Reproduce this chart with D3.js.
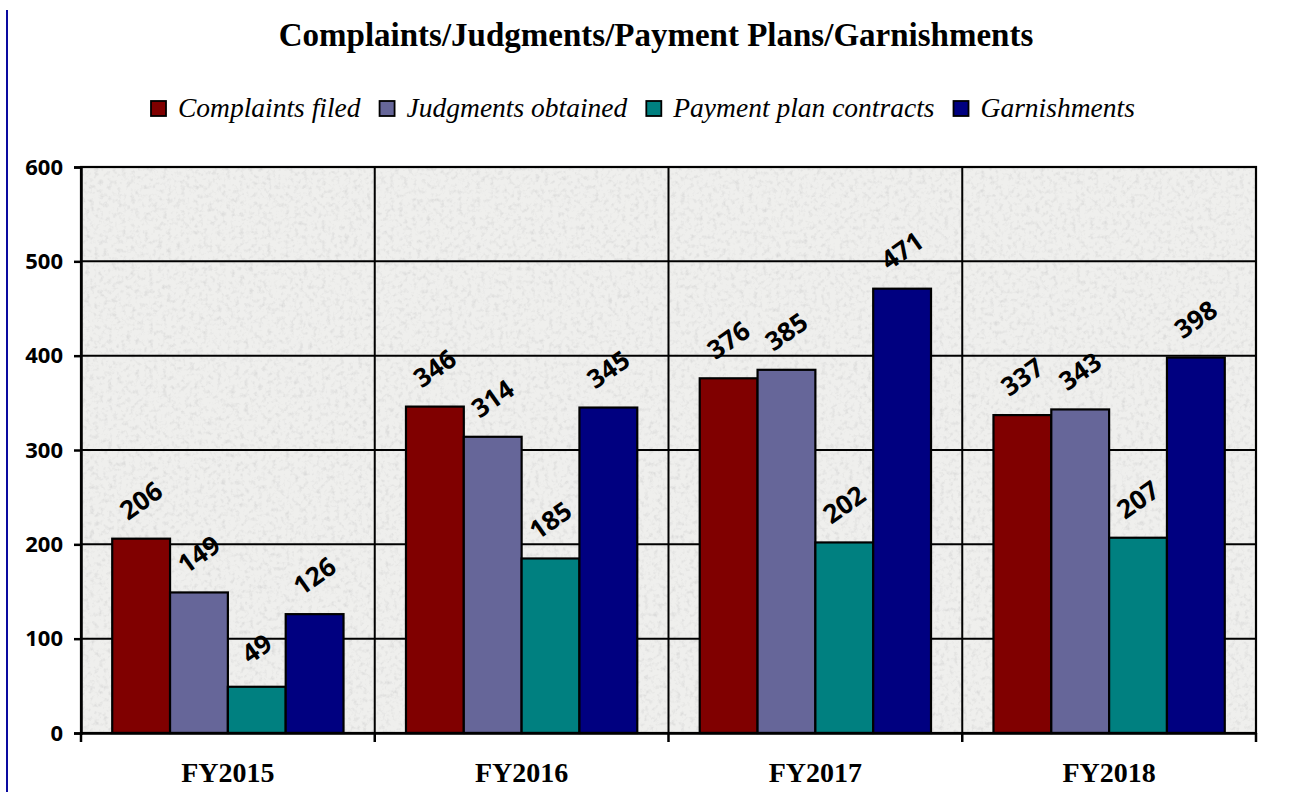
<!DOCTYPE html>
<html>
<head>
<meta charset="utf-8">
<script src="https://cdn.jsdelivr.net/npm/d3@7"></script>
<style>
  body { margin: 0; background: #fff; }
  svg { display: block; }
</style>
</head>
<body>
<svg id="chart" width="1300" height="792"></svg>
<script>
// chart data
const years = ["FY2015", "FY2016", "FY2017", "FY2018"];
const seriesNames = ["Complaints filed", "Judgments obtained", "Payment plan contracts", "Garnishments"];
const complaints = [206, 346, 376, 337];
const judgments = [149, 314, 385, 343];
const paymentPlans = [49, 185, 202, 207];
const garnishments = [126, 345, 471, 398];
const yTicks = [0, 100, 200, 300, 400, 500, 600];

const colors = ["#800000", "#666699", "#008080", "#000080"];
const seriesValues = [complaints, judgments, paymentPlans, garnishments];

const svg = d3.select("#chart");
const margin = {left: 81, right: 44, top: 167, bottom: 59};
const width = 1300 - margin.left - margin.right;
const height = 792 - margin.top - margin.bottom;

// granite-like texture for the plot background
const defs = svg.append("defs");
const filt = defs.append("filter").attr("id", "granite")
    .attr("x", 0).attr("y", 0).attr("width", "100%").attr("height", "100%");
filt.append("feTurbulence").attr("type", "fractalNoise")
    .attr("baseFrequency", 0.22).attr("numOctaves", 3).attr("seed", 4).attr("result", "noise");
filt.append("feColorMatrix").attr("in", "noise").attr("type", "matrix")
    .attr("values", "0 0 0 0 0.62  0 0 0 0 0.62  0 0 0 0 0.62  1.5 0 0 0 -0.72")
    .attr("result", "spots");
filt.append("feComposite").attr("in", "spots").attr("in2", "SourceGraphic").attr("operator", "over");

// blue rule on the left edge
svg.append("line")
    .attr("x1", 7).attr("x2", 7).attr("y1", 10).attr("y2", 792)
    .attr("stroke", "#0a0aa0").attr("stroke-width", 2);

// title
svg.append("text")
    .attr("x", 656).attr("y", 46)
    .attr("text-anchor", "middle")
    .style("font-family", "'Liberation Serif', serif")
    .style("font-weight", "bold")
    .style("font-size", "33px")
    .text("Complaints/Judgments/Payment Plans/Garnishments");

// legend
const legend = svg.append("g").attr("transform", "translate(150,117)");
let lx = 0;
seriesNames.forEach((name, i) => {
    legend.append("rect")
        .attr("x", lx + 1).attr("y", -16).attr("width", 15).attr("height", 15)
        .attr("fill", colors[i]).attr("stroke", "#000").attr("stroke-width", 1.8);
    const t = legend.append("text")
        .attr("x", lx + 28).attr("y", 0)
        .style("font-family", "'Liberation Serif', serif")
        .style("font-style", "italic")
        .style("font-size", "27.5px")
        .text(name);
    lx += 28 + t.node().getComputedTextLength() + 18;
});

const g = svg.append("g").attr("transform", `translate(${margin.left},${margin.top})`);

const x0 = d3.scaleBand().domain(years).range([0, width]).paddingInner(0).paddingOuter(0);
const x1 = d3.scaleBand().domain(d3.range(seriesNames.length))
    .range([0, x0.bandwidth()]).paddingInner(0).paddingOuter(0.54);
const y = d3.scaleLinear().domain([0, 600]).range([height, 0]);

g.append("rect")
    .attr("width", width).attr("height", height)
    .attr("fill", "#efefed")
    .attr("filter", "url(#granite)");

// gridlines
g.selectAll(".hgrid").data(yTicks).join("line")
    .attr("x1", 0).attr("x2", width)
    .attr("y1", d => y(d)).attr("y2", d => y(d))
    .attr("stroke", "#000").attr("stroke-width", 2);
g.selectAll(".vgrid").data(years.slice(1)).join("line")
    .attr("x1", d => x0(d)).attr("x2", d => x0(d))
    .attr("y1", 0).attr("y2", height)
    .attr("stroke", "#000").attr("stroke-width", 2);

// bars
const groups = g.selectAll(".grp").data(years).join("g")
    .attr("transform", d => `translate(${x0(d)},0)`);

groups.selectAll("rect")
    .data((d, yi) => seriesValues.map((vals, si) => ({si: si, v: vals[yi]})))
    .join("rect")
    .attr("x", d => x1(d.si))
    .attr("y", d => y(d.v))
    .attr("width", x1.bandwidth())
    .attr("height", d => height - y(d.v))
    .attr("fill", d => colors[d.si])
    .attr("stroke", "#000").attr("stroke-width", 2.2);

groups.selectAll("text")
    .data((d, yi) => seriesValues.map((vals, si) => ({si: si, v: vals[yi]})))
    .join("text")
    .attr("transform", d => `translate(${x1(d.si) + x1.bandwidth() / 2},${y(d.v) - 38}) rotate(-35)`)
    .attr("text-anchor", "middle")
    .attr("dy", "0.35em")
    .style("font-family", "'Open Sans', sans-serif")
    .style("font-weight", "bold")
    .style("font-size", "26px")
    .text(d => d.v);

// plot border
g.append("rect")
    .attr("width", width).attr("height", height)
    .attr("fill", "none").attr("stroke", "#000").attr("stroke-width", 2.2);

// y axis
const yAxis = g.append("g")
    .call(d3.axisLeft(y).tickValues(yTicks).tickSize(7).tickPadding(11));
yAxis.select(".domain").attr("stroke-width", 2.5);
yAxis.selectAll(".tick line").attr("stroke-width", 2.5);
yAxis.selectAll("text")
    .style("font-family", "'Open Sans', sans-serif")
    .style("font-weight", "bold")
    .style("font-size", "22px")
    .attr("fill", "#000");

// x axis
const xAxis = g.append("g").attr("transform", `translate(0,${height})`)
    .call(d3.axisBottom(x0).tickSize(0).tickPadding(29));
xAxis.select(".domain").attr("stroke-width", 2.5);
xAxis.selectAll("text")
    .style("font-family", "'Liberation Serif', serif")
    .style("font-weight", "bold")
    .style("font-size", "28px")
    .attr("fill", "#000");
xAxis.selectAll(".sep").data([0].concat(years.slice(1).map(d => x0(d)), [width])).join("line")
    .attr("x1", d => d).attr("x2", d => d)
    .attr("y1", 0).attr("y2", 9)
    .attr("stroke", "#000").attr("stroke-width", 2.5);
</script>
</body>
</html>
